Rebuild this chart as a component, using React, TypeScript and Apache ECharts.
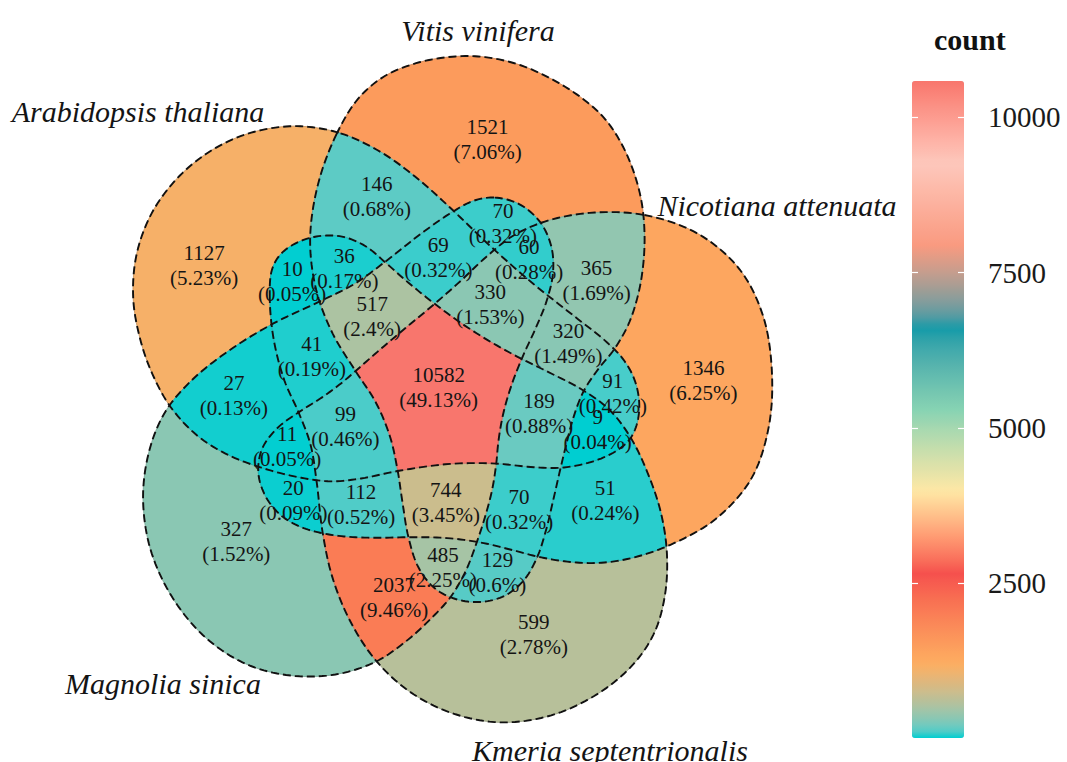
import React, { useEffect, useRef } from 'react';
import * as echarts from 'echarts';

type Pt = [number, number];

const SERIF = "'Liberation Serif', 'Times New Roman', serif";

// ---- sets ----
const SET_NAMES = ['Arabidopsis thaliana', 'Vitis vinifera', 'Nicotiana attenuata', 'Kmeria septentrionalis', 'Magnolia sinica'];
const SET_CODES = ['A', 'V', 'N', 'K', 'M'];
const SET_LABEL_POS: Pt[] = [[138, 111], [478, 30], [777, 205], [610, 750], [163, 683]];

// outline shapes (diagram pixel frame)
const SHAPE_A: Pt[] = [[340,132],[383,153],[417,180],[456,211],[487,245],[533,284],[577,318],[605,341],[622,358],[634,379],[640,403],[636,425],[628,440],[617,450],[590,463],[560,468],[530,467],[497,464],[453,462],[397,471],[360,479],[333,481],[300,478],[258,466],[230,455],[200,437],[168,408],[152,368],[140,335],[133,300],[136,255],[150,217],[172,185],[200,158],[232,140],[265,130],[300,127]];
const SHAPE_V: Pt[] = [[340,132],[357,100],[383,77],[417,63],[450,58],[480,57],[517,63],[553,80],[583,100],[603,117],[620,140],[633,173],[642,200],[644,235],[643,265],[638,295],[628,325],[615,350],[597,370],[583,390],[573,420],[566,447],[560,470],[553,500],[546,530],[537,557],[524,580],[505,596],[480,602],[455,598],[435,588],[418,568],[408,537],[403,500],[397,471],[390,437],[377,400],[355,372],[332,333],[317,290],[310,240],[316,185]];
const SHAPE_N: Pt[] = [[643,215],[700,233],[740,271],[762,315],[771,368],[768,427],[752,478],[718,520],[667,544],[630,558],[600,563],[567,561],[537,557],[513,550],[480,542],[447,538],[413,537],[380,538],[350,537],[322,533],[300,526],[280,515],[266,496],[258,472],[262,448],[278,427],[300,412],[322,398],[343,382],[356,370],[380,350],[405,328],[433,305],[460,283],[487,256],[513,236],[543,223],[590,213]];
const SHAPE_K: Pt[] = [[270,292],[272,272],[280,256],[295,244],[315,237],[343,236],[367,246],[383,263],[410,283],[433,303],[460,322],[487,340],[520,358],[545,371],[583,390],[610,410],[630,437],[648,475],[661,515],[667,550],[664,598],[655,630],[633,664],[600,692],[550,716],[500,723],[450,712],[410,690],[377,663],[350,620],[332,575],[322,533],[317,480],[311,445],[300,413],[283,380],[274,345]];
const SHAPE_M: Pt[] = [[493,198],[520,203],[540,222],[551,247],[553,272],[547,300],[535,330],[523,355],[513,381],[503,414],[498,440],[497,464],[492,490],[485,517],[477,540],[465,572],[452,597],[430,618],[405,640],[377,663],[335,674],[290,675],[247,664],[207,639],[173,598],[150,548],[143,498],[150,448],[168,411],[187,383],[233,350],[270,323],[320,302],[355,285],[383,263],[420,233],[456,211],[472,202]];
const SHAPES = [SHAPE_A, SHAPE_V, SHAPE_N, SHAPE_K, SHAPE_M];

// ---- region counts ----
const REGION_KEYS = ['A','V','N','K','M','AV','AN','AK','AM','VN','VK','VM','NK','NM','KM','AVN','AVK','AVM','ANK','ANM','AKM','VNK','VNM','VKM','NKM','AVNK','AVNM','AVKM','ANKM','VNKM','AVNKM'];
const REGION_COUNTS = [1127,1521,1346,599,327,146,91,10,27,365,129,70,51,20,2037,320,36,69,9,11,41,70,60,485,112,189,330,517,99,744,10582];

// ---- colour scale (count value -> colour stops) ----
const PALETTE_VALUES = [9, 1200, 2652, 3974, 5295, 6617, 7939, 9260, 10582];
const PALETTE_COLORS = ['#00CED1', '#FDAE61', '#F5504D', '#FFE8A5', '#86D3B3', '#0A9AA8', '#F99A80', '#FDC8BC', '#F8766D'];
const COLORBAR_BREAKS = [2500, 5000, 7500, 10000];

// ---------- helpers ----------
function taubin(pts: Pt[], iters: number): Pt[] {
  let P: Pt[] = pts.map((p) => [p[0], p[1]] as Pt);
  const N = P.length;
  for (let it = 0; it < iters; it++) {
    for (const f of [0.5, -0.53]) {
      const Q = P;
      P = Q.map((p, i) => {
        const a = Q[(i - 1 + N) % N], b = Q[(i + 1) % N];
        return [p[0] + f * ((a[0] + b[0]) / 2 - p[0]), p[1] + f * ((a[1] + b[1]) / 2 - p[1])] as Pt;
      });
    }
  }
  return P;
}

function smoothClosed(pts: Pt[], n: number): Pt[] {
  const out: Pt[] = [];
  const N = pts.length;
  const tj = (a: Pt, b: Pt) => Math.max(Math.sqrt(Math.hypot(b[0] - a[0], b[1] - a[1])), 1e-3);
  for (let i = 0; i < N; i++) {
    const p0 = pts[(i - 1 + N) % N], p1 = pts[i], p2 = pts[(i + 1) % N], p3 = pts[(i + 2) % N];
    const t0 = 0, t1 = t0 + tj(p0, p1), t2 = t1 + tj(p1, p2), t3 = t2 + tj(p2, p3);
    for (let k = 0; k < n; k++) {
      const t = t1 + (t2 - t1) * k / n;
      const mix = (a: Pt, b: Pt, ta: number, tb: number): Pt => {
        const u = (t - ta) / (tb - ta);
        return [a[0] + (b[0] - a[0]) * u, a[1] + (b[1] - a[1]) * u];
      };
      const A1 = mix(p0, p1, t0, t1), A2 = mix(p1, p2, t1, t2), A3 = mix(p2, p3, t2, t3);
      const B1 = mix(A1, A2, t0, t2), B2 = mix(A2, A3, t1, t3);
      out.push(mix(B1, B2, t1, t2));
    }
  }
  return out;
}

// interior point like GEOS PointOnSurface: widest horizontal run at the mid-height of the bbox
function pointOnSurface(loops: Pt[][]): Pt {
  let minY = Infinity, maxY = -Infinity;
  for (const l of loops) for (const p of l) { if (p[1] < minY) minY = p[1]; if (p[1] > maxY) maxY = p[1]; }
  if (!isFinite(minY)) return [NaN, NaN];
  const yc = (minY + maxY) / 2 + 1e-7;
  const xs: number[] = [];
  for (const l of loops) {
    for (let k = 0; k < l.length; k++) {
      const a = l[k], b = l[(k + 1) % l.length];
      if ((a[1] > yc) !== (b[1] > yc)) xs.push(a[0] + (yc - a[1]) * (b[0] - a[0]) / (b[1] - a[1]));
    }
  }
  xs.sort((p, q) => p - q);
  let best = -1, bx = NaN;
  for (let k = 0; k + 1 < xs.length; k += 2) {
    const w = xs[k + 1] - xs[k];
    if (w > best) { best = w; bx = (xs[k] + xs[k + 1]) / 2; }
  }
  return [bx, yc];
}

function computeRegions(shapes: Pt[][], codes: number[]) {
  const H = 2, X0 = 100, Y0 = 26, NX = 361, NY = 366;
  const S = shapes.length;
  const rowX: number[][][] = [], colY: number[][][] = [];
  for (let s = 0; s < S; s++) {
    const P = shapes[s], n = P.length;
    const rows: number[][] = [];
    for (let j = 0; j < NY; j++) {
      const y = Y0 + j * H + 1e-6;
      const arr: number[] = [];
      for (let k = 0; k < n; k++) {
        const a = P[k], b = P[(k + 1) % n];
        if ((a[1] > y) !== (b[1] > y)) arr.push(a[0] + (y - a[1]) * (b[0] - a[0]) / (b[1] - a[1]));
      }
      arr.sort((p, q) => p - q);
      rows.push(arr);
    }
    rowX.push(rows);
    const cols: number[][] = [];
    for (let i = 0; i < NX; i++) {
      const x = X0 + i * H + 1e-6;
      const arr: number[] = [];
      for (let k = 0; k < n; k++) {
        const a = P[k], b = P[(k + 1) % n];
        if ((a[0] > x) !== (b[0] > x)) arr.push(a[1] + (x - a[0]) * (b[1] - a[1]) / (b[0] - a[0]));
      }
      arr.sort((p, q) => p - q);
      cols.push(arr);
    }
    colY.push(cols);
  }
  const mask = new Uint8Array(NX * NY);
  for (let s = 0; s < S; s++) {
    for (let j = 0; j < NY; j++) {
      const cr = rowX[s][j];
      let k = 0;
      for (let i = 0; i < NX; i++) {
        const x = X0 + i * H;
        while (k < cr.length && cr[k] < x) k++;
        if (k & 1) mask[j * NX + i] |= 1 << s;
      }
    }
  }
  const NH = NX * NY;
  const hPos = (i: number, j: number, insideLeft: boolean): Pt => {
    const x0 = X0 + i * H, x1 = x0 + H;
    let best = NaN;
    for (let s = 0; s < S; s++) for (const c of rowX[s][j]) {
      if (c >= x0 && c < x1 && (isNaN(best) || (insideLeft ? c < best : c > best))) best = c;
    }
    if (isNaN(best)) best = (x0 + x1) / 2;
    return [best, Y0 + j * H];
  };
  const vPos = (i: number, j: number, insideTop: boolean): Pt => {
    const y0 = Y0 + j * H, y1 = y0 + H;
    let best = NaN;
    for (let s = 0; s < S; s++) for (const c of colY[s][i]) {
      if (c >= y0 && c < y1 && (isNaN(best) || (insideTop ? c < best : c > best))) best = c;
    }
    if (isNaN(best)) best = (y0 + y1) / 2;
    return [X0 + i * H, best];
  };

  return codes.map((code) => {
    const next = new Map<number, number>();
    const pos = new Map<number, Pt>();
    const inside = (i: number, j: number) => mask[j * NX + i] === code;
    const getPos = (key: number): Pt => {
      let p = pos.get(key);
      if (p) return p;
      if (key < NH) {
        const j = Math.floor(key / NX), i = key % NX;
        p = hPos(i, j, inside(i, j));
      } else {
        const kk = key - NH;
        const j = Math.floor(kk / NX), i = kk % NX;
        p = vPos(i, j, inside(i, j));
      }
      pos.set(key, p);
      return p;
    };
    for (let j = 0; j < NY - 1; j++) {
      for (let i = 0; i < NX - 1; i++) {
        const c = (inside(i, j) ? 8 : 0) | (inside(i + 1, j) ? 4 : 0) | (inside(i + 1, j + 1) ? 2 : 0) | (inside(i, j + 1) ? 1 : 0);
        if (c === 0 || c === 15) continue;
        const T = j * NX + i, B = (j + 1) * NX + i, L = NH + j * NX + i, R = NH + j * NX + i + 1;
        switch (c) {
          case 1: next.set(L, B); break;
          case 2: next.set(B, R); break;
          case 3: next.set(L, R); break;
          case 4: next.set(R, T); break;
          case 5: next.set(R, T); next.set(L, B); break;
          case 6: next.set(B, T); break;
          case 7: next.set(L, T); break;
          case 8: next.set(T, L); break;
          case 9: next.set(T, B); break;
          case 10: next.set(T, L); next.set(B, R); break;
          case 11: next.set(T, R); break;
          case 12: next.set(R, L); break;
          case 13: next.set(R, B); break;
          case 14: next.set(B, L); break;
        }
      }
    }
    const visited = new Set<number>();
    const loops: Pt[][] = [];
    for (const start of next.keys()) {
      if (visited.has(start)) continue;
      const loop: Pt[] = [];
      let k: number | undefined = start;
      while (k !== undefined && !visited.has(k)) {
        visited.add(k);
        loop.push(getPos(k));
        k = next.get(k);
      }
      if (loop.length > 3) loops.push(loop);
    }
    return { loops, labelAt: pointOnSurface(loops) };
  });
}

// colour ramp interpolated in CIELAB
const Xn = 0.95047, Zn = 1.08883;
const toLin = (c: number) => { c /= 255; return c <= 0.04045 ? c / 12.92 : Math.pow((c + 0.055) / 1.055, 2.4); };
const fromLin = (c: number) => { const v = c <= 0.0031308 ? 12.92 * c : 1.055 * Math.pow(Math.max(c, 0), 1 / 2.4) - 0.055; return Math.round(Math.min(1, Math.max(0, v)) * 255); };
const fl = (t: number) => (t > 216 / 24389 ? Math.cbrt(t) : (24389 / 27 * t + 16) / 116);
const flInv = (t: number) => { const t3 = t * t * t; return t3 > 216 / 24389 ? t3 : (116 * t - 16) * 27 / 24389; };
function hexToLab(h: string): number[] {
  const v = parseInt(h.slice(1), 16);
  const r = toLin((v >> 16) & 255), g = toLin((v >> 8) & 255), b = toLin(v & 255);
  const X = 0.4124564 * r + 0.3575761 * g + 0.1804375 * b;
  const Y = 0.2126729 * r + 0.7151522 * g + 0.072175 * b;
  const Z = 0.0193339 * r + 0.119192 * g + 0.9503041 * b;
  const fx = fl(X / Xn), fy = fl(Y), fz = fl(Z / Zn);
  return [116 * fy - 16, 500 * (fx - fy), 200 * (fy - fz)];
}
function labToHex(lab: number[]): string {
  const fy = (lab[0] + 16) / 116, fx = fy + lab[1] / 500, fz = fy - lab[2] / 200;
  const X = Xn * flInv(fx), Y = flInv(fy), Z = Zn * flInv(fz);
  const r = 3.2404542 * X - 1.5371385 * Y - 0.4985314 * Z;
  const g = -0.969266 * X + 1.8760108 * Y + 0.041556 * Z;
  const b = 0.0556434 * X - 0.2040259 * Y + 1.0572252 * Z;
  return '#' + [r, g, b].map((c) => fromLin(c).toString(16).padStart(2, '0')).join('');
}
function rampColors(vals: number[], pal: string[], vmin: number, vmax: number, n: number): string[] {
  const labs = pal.map(hexToLab);
  const out: string[] = [];
  for (let k = 0; k < n; k++) {
    const v = vmin + (vmax - vmin) * k / (n - 1);
    let i = 0;
    while (i < vals.length - 2 && v > vals[i + 1]) i++;
    const f = Math.min(1, Math.max(0, (v - vals[i]) / (vals[i + 1] - vals[i])));
    out.push(labToHex(labs[i].map((c, d) => c + (labs[i + 1][d] - c) * f)));
  }
  return out;
}

export default function App() {
  const ref = useRef<HTMLDivElement>(null);
  useEffect(() => {
    if (!ref.current) return;
    const chart = echarts.init(ref.current, undefined, { renderer: 'svg' });
    const smooth = SHAPES.map((s) => smoothClosed(taubin(s, 2), 10));
    const codes = REGION_KEYS.map((k) => k.split('').reduce((m, ch) => m | (1 << SET_CODES.indexOf(ch)), 0));
    const regions = computeRegions(smooth, codes);
    const total = REGION_COUNTS.reduce((a, b) => a + b, 0);
    const vmin = Math.min(...REGION_COUNTS), vmax = Math.max(...REGION_COUNTS);
    const colors = rampColors(PALETTE_VALUES, PALETTE_COLORS, vmin, vmax, 161);

    const option: any = {
      animation: false,
      backgroundColor: '#ffffff',
      title: {
        text: 'count', left: 934, top: 24, padding: 0,
        textStyle: { fontFamily: SERIF, fontWeight: 'bold', fontSize: 30, color: '#111' },
      },
      grid: [
        { left: 0, top: 0, width: 1067, height: 762 },
        { left: 912, top: 81, width: 52, height: 657 },
      ],
      xAxis: [
        { type: 'value', gridIndex: 0, min: 0, max: 1067, show: false },
        { type: 'value', gridIndex: 1, min: 0, max: 1, show: false },
      ],
      yAxis: [
        { type: 'value', gridIndex: 0, min: 0, max: 762, inverse: true, show: false },
        {
          type: 'value', gridIndex: 1, min: vmin, max: vmax, position: 'left', z: 10,
          axisLine: { show: false }, splitLine: { show: false }, axisLabel: { show: false },
          axisTick: { show: true, inside: true, length: 6, lineStyle: { color: '#ffffff', width: 1.2 }, customValues: COLORBAR_BREAKS },
        },
        {
          type: 'value', gridIndex: 1, min: vmin, max: vmax, position: 'right', z: 10,
          axisLine: { show: false }, splitLine: { show: false },
          axisTick: { show: true, inside: true, length: 6, lineStyle: { color: '#ffffff', width: 1.2 }, customValues: COLORBAR_BREAKS },
          axisLabel: {
            show: true, customValues: COLORBAR_BREAKS, margin: 24, fontFamily: SERIF, fontSize: 29, color: '#1a1a1a',
            formatter: (v: number) => String(v),
          },
        },
      ],
      visualMap: {
        type: 'continuous', min: vmin, max: vmax, dimension: 0, seriesIndex: 0,
        orient: 'vertical', left: 912, top: 81, itemWidth: 52, itemHeight: 657, padding: 0,
        calculable: false, hoverLink: false, z: 2,
        inRange: { color: colors },
      },
      series: [
        {
          type: 'custom', name: 'regions', coordinateSystem: 'cartesian2d', xAxisIndex: 0, yAxisIndex: 0,
          silent: true, z: 1,
          data: REGION_COUNTS.map((c, i) => [c, i]),
          renderItem: (params: any, api: any) => {
            const reg = regions[params.dataIndex];
            if (!reg.loops.length) return null;
            let d = '';
            for (const loop of reg.loops) {
              for (let k = 0; k < loop.length; k++) {
                const q = api.coord(loop[k]);
                d += (k ? 'L' : 'M') + q[0].toFixed(2) + ' ' + q[1].toFixed(2);
              }
              d += 'Z';
            }
            const col = api.visual('color');
            return { type: 'path', shape: { pathData: d }, style: { fill: col, stroke: col, lineWidth: 0.8 } };
          },
        },
        {
          type: 'custom', name: 'outlines', coordinateSystem: 'cartesian2d', xAxisIndex: 0, yAxisIndex: 0,
          silent: true, z: 2,
          data: SET_NAMES.map((_, i) => [i, i]),
          renderItem: (params: any, api: any) => {
            const pts = smooth[params.dataIndex].map((p) => api.coord(p));
            return {
              type: 'group',
              children: [
                { type: 'polygon', shape: { points: pts }, style: { fill: 'none', stroke: 'rgba(70,70,70,0.35)', lineWidth: 0.7 } },
                { type: 'polygon', shape: { points: pts }, style: { fill: 'none', stroke: '#111', lineWidth: 1.9, lineDash: [8, 4] } },
              ],
            };
          },
        },
        {
          type: 'custom', name: 'regionLabels', coordinateSystem: 'cartesian2d', xAxisIndex: 0, yAxisIndex: 0,
          silent: true, z: 3,
          data: REGION_COUNTS.map((c, i) => [c, i]),
          renderItem: (params: any, api: any) => {
            const i = params.dataIndex;
            const reg = regions[i];
            if (isNaN(reg.labelAt[0])) return null;
            const q = api.coord(reg.labelAt);
            const pct = Math.round((REGION_COUNTS[i] / total) * 10000) / 100;
            return {
              type: 'text', x: q[0], y: q[1],
              style: {
                text: REGION_COUNTS[i] + '\n(' + pct + '%)', fill: '#141414', fontSize: 21, fontFamily: SERIF,
                align: 'center', verticalAlign: 'middle', lineHeight: 25,
              },
            };
          },
        },
        {
          type: 'custom', name: 'setLabels', coordinateSystem: 'cartesian2d', xAxisIndex: 0, yAxisIndex: 0,
          silent: true, z: 3,
          data: SET_LABEL_POS.map((p) => [p[0], p[1]]),
          renderItem: (params: any, api: any) => {
            const q = api.coord([api.value(0), api.value(1)]);
            return {
              type: 'text', x: q[0], y: q[1],
              style: {
                text: SET_NAMES[params.dataIndex], fill: '#141414', fontSize: 30, fontFamily: SERIF, fontStyle: 'italic',
                align: 'center', verticalAlign: 'middle',
              },
            };
          },
        },
      ],
    };
    chart.setOption(option);
    return () => chart.dispose();
  }, []);
  return <div ref={ref} style={{ position: 'fixed', left: 0, top: 0, width: 1067, height: 762, background: '#fff' }} />;
}
